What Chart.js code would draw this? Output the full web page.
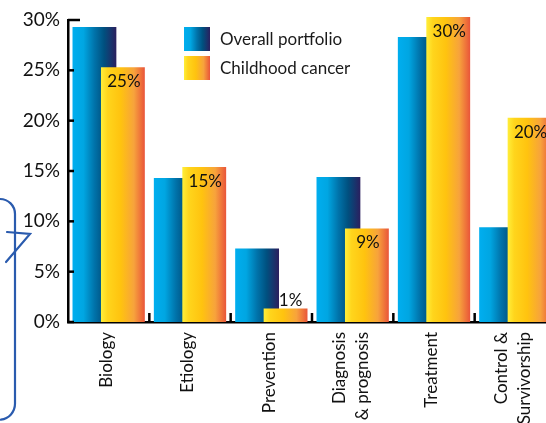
<!DOCTYPE html>
<html>
<head>
<meta charset="utf-8">
<script src="https://cdn.jsdelivr.net/npm/chart.js@4.4.1/dist/chart.umd.min.js"></script>
<style>
  html, body { margin: 0; padding: 0; background: #fff; overflow: hidden; }
  #wrap { position: relative; width: 556px; height: 423px; }
  .legend { position: absolute; left: 184px; top: 24px; font: 17px Lato, sans-serif; color: #1a1a1a; }
  .legend div { display: flex; align-items: center; height: 29px; }
  .legend span.box { display: inline-block; width: 26px; height: 24px; margin-right: 10px; }
</style>
</head>
<body>
<div id="wrap">
  <canvas id="grafico"></canvas>
  <div class="legend" id="legenda"></div>
</div>
<script>
const categories = ["Biology", "Etiology", "Prevention", ["Diagnosis", "& prognosis"], "Treatment", ["Control &", "Survivorship"]];
const overallPortfolio = [29.3, 14.3, 7.3, 14.4, 28.3, 9.4];
const childhoodCancer = [25.3, 15.4, 1.35, 9.3, 30.3, 20.3];
const childhoodLabels = ["25%", "15%", "1%", "9%", "30%", "20%"];
const seriesNames = ["Overall portfolio", "Childhood cancer"];
const yTicks = [0, 5, 10, 15, 20, 25, 30];

const FONT = "Lato, sans-serif";
const CAT_PCT = 0.70;
const BAR_PCT = 1.54;

const blueStops = [[0, "#00AEEF"], [0.25, "#00A6E2"], [0.5, "#0073AA"], [0.72, "#00507F"], [1, "#2B1F5E"]];
const yellowStops = [[0, "#FFEE3A"], [0.15, "#FFD51C"], [0.45, "#FFC30F"], [0.75, "#F7A33C"], [1, "#E9553A"]];

let desenhandoAmarelo = false;

function gradiente(ctx, stops) {
  const chart = ctx.chart;
  const x = chart.scales.x;
  if (!x || ctx.dataIndex === undefined) return stops[2][1];
  const cw = x.width / categories.length;
  const slot = cw * CAT_PCT / 2;
  const centro = x.getPixelForValue(ctx.dataIndex) + (ctx.datasetIndex - 0.5) * slot;
  const w = slot * BAR_PCT;
  if (!isFinite(centro) || !isFinite(w) || w <= 0) return stops[2][1];
  const g = chart.ctx.createLinearGradient(centro - w / 2, 0, centro + w / 2, 0);
  stops.forEach(([o, c]) => g.addColorStop(o, c));
  return g;
}

// yellow bars must sit over the blue ones, so draw them last
const ordemPlugin = {
  id: "ordem",
  beforeDatasetDraw(chart, args) {
    if (args.index === 1 && !desenhandoAmarelo) return false;
  },
  afterDatasetsDraw(chart) {
    desenhandoAmarelo = true;
    chart.getDatasetMeta(1).controller.draw();
    desenhandoAmarelo = false;

    const ctx = chart.ctx;
    const meta = chart.getDatasetMeta(1);
    ctx.save();
    ctx.fillStyle = "#111";
    ctx.font = "17px " + FONT;
    ctx.textAlign = "center";
    meta.data.forEach((bar, i) => {
      if (bar.base - bar.y > 24) {
        ctx.textBaseline = "top";
        ctx.fillText(childhoodLabels[i], bar.x + 1, bar.y + 6);
      } else {
        ctx.textBaseline = "alphabetic";
        ctx.fillText(childhoodLabels[i], bar.x + 5, bar.y - 2);
      }
    });
    ctx.restore();
  }
};

// inward tick marks + rotated category labels
const eixosPlugin = {
  id: "eixos",
  afterDraw(chart) {
    const { ctx, scales: { x, y }, chartArea } = chart;
    ctx.save();
    ctx.strokeStyle = "#000";
    ctx.lineWidth = 2.5;
    yTicks.forEach(v => {
      const py = y.getPixelForValue(v);
      const len = v === yTicks[yTicks.length - 1] ? 12 : 6;
      ctx.beginPath();
      ctx.moveTo(chartArea.left, py);
      ctx.lineTo(chartArea.left + len, py);
      ctx.stroke();
    });
    for (let i = 1; i < categories.length; i++) {
      const px = (x.getPixelForValue(i - 1) + x.getPixelForValue(i)) / 2;
      ctx.beginPath();
      ctx.moveTo(px, chartArea.bottom);
      ctx.lineTo(px, chartArea.bottom - 9);
      ctx.stroke();
    }

    ctx.fillStyle = "#111";
    ctx.font = "17px " + FONT;
    ctx.textAlign = "right";
    ctx.textBaseline = "middle";
    const lh = 23;
    categories.forEach((cat, i) => {
      const linhas = Array.isArray(cat) ? cat : [cat];
      const px = x.getPixelForValue(i) - 2;
      linhas.forEach((linha, j) => {
        const off = (j - (linhas.length - 1) / 2) * lh;
        ctx.save();
        ctx.translate(px + off, chartArea.bottom + 10);
        ctx.rotate(-Math.PI / 2);
        ctx.fillText(linha, 0, 0);
        ctx.restore();
      });
    });

    // hand-drawn bracket on the left
    ctx.strokeStyle = "#2A5BAE";
    ctx.lineWidth = 2.2;
    ctx.lineCap = "round";
    ctx.beginPath();
    ctx.moveTo(-2, 199);
    ctx.arcTo(15, 199, 15, 230, 15);
    ctx.lineTo(15, 398);
    ctx.arcTo(15, 418, -2, 420, 16);
    ctx.stroke();
    ctx.beginPath();
    ctx.moveTo(7, 232);
    ctx.lineTo(30, 234);
    ctx.lineTo(6, 262);
    ctx.stroke();
    ctx.restore();
  }
};

function montarLegenda() {
  const fundos = [
    "linear-gradient(to right, " + blueStops.map(([o, c]) => c + " " + o * 100 + "%").join(", ") + ")",
    "linear-gradient(to right, " + yellowStops.map(([o, c]) => c + " " + o * 100 + "%").join(", ") + ")"
  ];
  document.getElementById("legenda").innerHTML = seriesNames
    .map((nome, i) => `<div><span class="box" style="background:${fundos[i]}"></span>${nome}</div>`)
    .join("");
}

new Chart(document.getElementById("grafico"), {
  type: "bar",
  data: {
    labels: categories,
    datasets: [
      {
        label: seriesNames[0],
        data: overallPortfolio,
        backgroundColor: ctx => gradiente(ctx, blueStops),
        categoryPercentage: CAT_PCT,
        barPercentage: BAR_PCT
      },
      {
        label: seriesNames[1],
        data: childhoodCancer,
        backgroundColor: ctx => gradiente(ctx, yellowStops),
        categoryPercentage: CAT_PCT,
        barPercentage: BAR_PCT
      }
    ]
  },
  options: {
    responsive: true,
    maintainAspectRatio: false,
    animation: false,
    layout: { padding: { top: 20, left: 0, right: 0, bottom: 0 } },
    plugins: { legend: { display: false }, tooltip: { enabled: false } },
    scales: {
      x: {
        grid: { display: false, drawTicks: false },
        border: { display: true, color: "#000", width: 2.5 },
        ticks: { display: false },
        afterFit: s => { s.height = 101; }
      },
      y: {
        min: 0,
        max: 30,
        grid: { display: false, drawTicks: false },
        border: { display: true, color: "#000", width: 2.5 },
        ticks: {
          stepSize: 5,
          padding: 8,
          color: "#111",
          font: { family: FONT, size: 19 },
          callback: v => v + "%"
        },
        afterFit: s => { s.width = 68; }
      }
    }
  },
  plugins: [ordemPlugin, eixosPlugin]
});

montarLegenda();
</script>
</body>
</html>
